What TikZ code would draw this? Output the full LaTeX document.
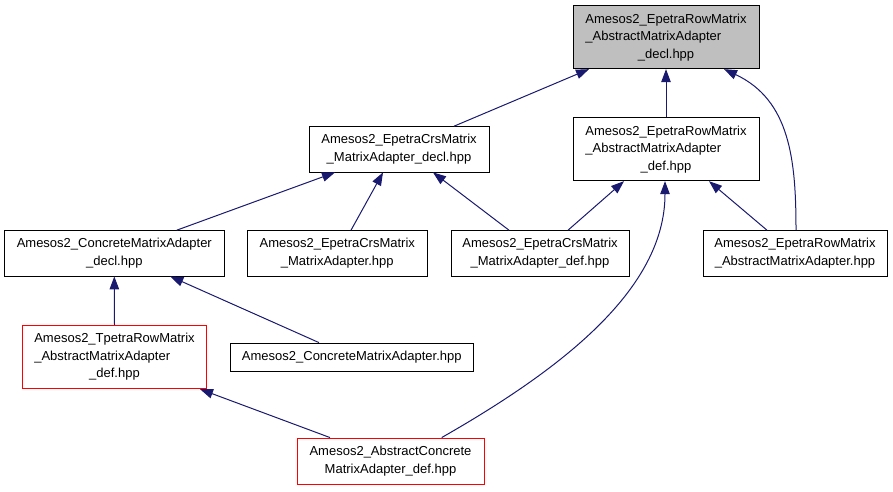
\documentclass[tikz,border=0pt]{standalone}
\usepackage{fontspec}
\usepackage{calc}
\setmainfont{Liberation Sans}
\usetikzlibrary{arrows.meta}
\definecolor{edgeblue}{HTML}{191970}
\definecolor{nodegray}{HTML}{BFBFBF}
\definecolor{nodered}{HTML}{FF0000}
\newcommand{\lftline}[2]{\makebox[\widthof{#1}][l]{#2}}
\begin{document}
\begin{tikzpicture}[x=1pt,y=-1pt,
  filebox/.style={draw=black, line width=0.9pt, inner sep=0pt, align=center,
    font=\fontsize{13}{17.5}\selectfont, text=black},
  redbox/.style={filebox, draw=nodered},
  graybox/.style={filebox, fill=nodegray},
  dep/.style={draw=edgeblue, line width=1pt, -{Triangle[length=13pt,width=9.5pt]}}]
\useasboundingbox (0,0) rectangle (893,491);
\node[graybox, minimum width=186pt, minimum height=63pt] (A) at (666,37.2)
  {Amesos2\_EpetraRowMatrix\\\lftline{Amesos2\_EpetraRowMatrix}{\_AbstractMatrixAdapter}\\\_decl.hpp};
\node[filebox, minimum width=180pt, minimum height=45.3pt] (B) at (399,149.3)
  {Amesos2\_EpetraCrsMatrix\\\_MatrixAdapter\_decl.hpp};
\node[filebox, minimum width=186pt, minimum height=63pt] (C) at (666,149.2)
  {Amesos2\_EpetraRowMatrix\\\lftline{Amesos2\_EpetraRowMatrix}{\_AbstractMatrixAdapter}\\\_def.hpp};
\node[filebox, minimum width=219.3pt, minimum height=45.3pt] (D) at (114.3,253.3)
  {Amesos2\_ConcreteMatrixAdapter\\\_decl.hpp};
\node[filebox, minimum width=179.3pt, minimum height=45.3pt] (E) at (337.3,253.3)
  {Amesos2\_EpetraCrsMatrix\\\_MatrixAdapter.hpp};
\node[filebox, minimum width=178pt, minimum height=45.3pt] (F) at (540,253.3)
  {Amesos2\_EpetraCrsMatrix\\\_MatrixAdapter\_def.hpp};
\node[filebox, minimum width=184pt, minimum height=45.3pt] (G) at (795,253.3)
  {Amesos2\_EpetraRowMatrix\\\_AbstractMatrixAdapter.hpp};
\node[redbox, minimum width=184.4pt, minimum height=63.4pt] (H) at (114.5,357)
  {Amesos2\_TpetraRowMatrix\\\lftline{Amesos2\_TpetraRowMatrix}{\_AbstractMatrixAdapter}\\\_def.hpp};
\node[filebox, minimum width=243pt, minimum height=28.3pt] (I) at (351.8,357.2)
  {Amesos2\_ConcreteMatrixAdapter.hpp};
\node[redbox, minimum width=187pt, minimum height=46pt] (J) at (390.5,461)
  {Amesos2\_AbstractConcrete\\MatrixAdapter\_def.hpp};
% connectors
\draw[dep] ([xshift=55]B.north) -- ([xshift=-77]A.south);
\draw[dep] (C.north) -- (A.south);
\draw[dep] ([xshift=1]G.north) .. controls (796,160) and (790,100) .. ([xshift=58]A.south);
\draw[dep] ([xshift=62.4]D.north) -- ([xshift=-64]B.south);
\draw[dep] ([xshift=13.7]E.north) -- ([xshift=-16]B.south);
\draw[dep] ([xshift=-31]F.north) -- ([xshift=34]B.south);
\draw[dep] ([xshift=28]F.north) -- ([xshift=-42]C.south);
\draw[dep] ([xshift=-28]G.north) -- ([xshift=43]C.south);
\draw[dep] ([xshift=51.2]J.north) .. controls (560,370) and (665,290) .. ([xshift=-1]C.south);
\draw[dep] (H.north) -- (D.south);
\draw[dep] ([xshift=-32.8]I.north) -- ([xshift=56]D.south);
\draw[dep] ([xshift=-60.5]J.north) -- ([xshift=85.5]H.south);
\end{tikzpicture}
\end{document}
